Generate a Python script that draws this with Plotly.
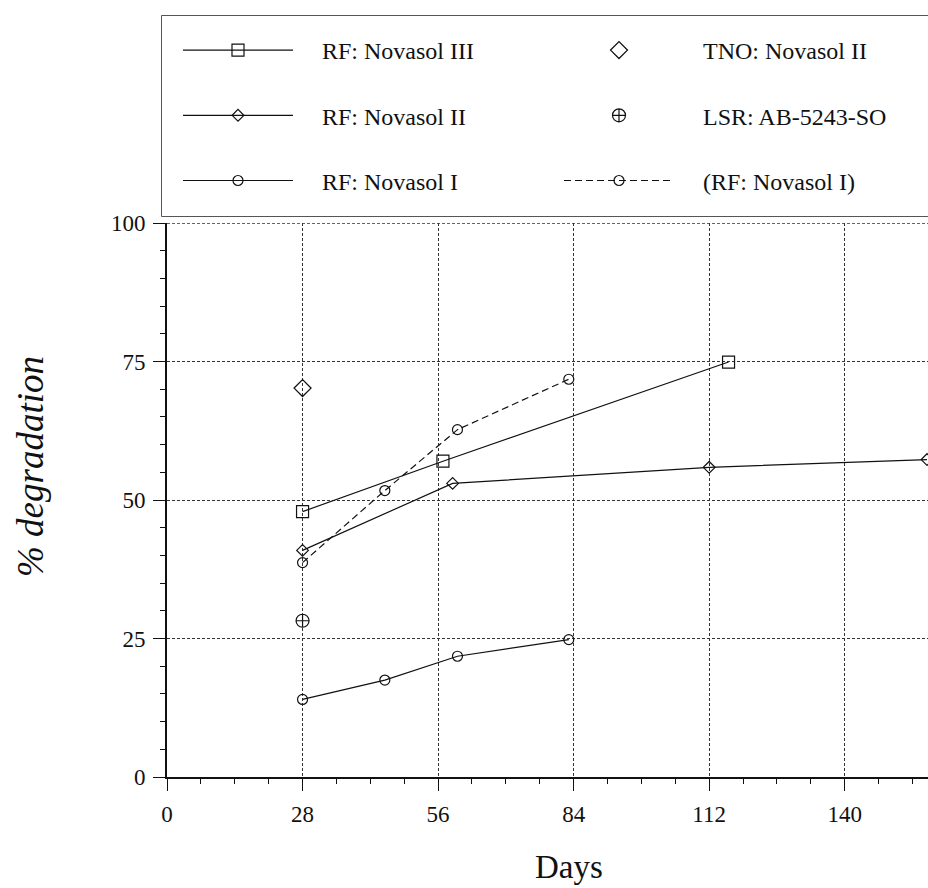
import plotly.graph_objects as go

# ---- data ----
rf3_days = [28, 57, 116]
rf3_vals = [47.9, 57.0, 74.9]

rf2_days = [28, 59, 112, 157]
rf2_vals = [40.9, 53.0, 55.9, 57.3]

rf1_days = [28, 45, 60, 83]
rf1_vals = [14.0, 17.5, 21.8, 24.8]

tno_days = [28]
tno_vals = [70.2]

lsr_days = [28]
lsr_vals = [28.2]

rf1b_days = [28, 45, 60, 83]
rf1b_vals = [38.7, 51.7, 62.7, 71.8]

x_ticks = [0, 28, 56, 84, 112, 140]
y_ticks = [0, 25, 50, 75, 100]

FONT = "Liberation Serif"
BLACK = "#111111"
PAD = "\u00a0" * 4

fig = go.Figure()

line_style = dict(color=BLACK, width=1.2)

fig.add_trace(go.Scatter(x=rf3_days, y=rf3_vals, mode="lines+markers", name=PAD + "RF: Novasol III",
                         line=line_style, legend="legend", legendgroup="a",
                         marker=dict(symbol="square-open", size=12, color=BLACK, line=dict(width=1.2))))
fig.add_trace(go.Scatter(x=rf2_days, y=rf2_vals, mode="lines+markers", name=PAD + "RF: Novasol II",
                         line=line_style, legend="legend", legendgroup="b",
                         marker=dict(symbol="diamond-open", size=9, color=BLACK, line=dict(width=1.2))))
fig.add_trace(go.Scatter(x=rf1_days, y=rf1_vals, mode="lines+markers", name=PAD + "RF: Novasol I",
                         line=line_style, legend="legend", legendgroup="c",
                         marker=dict(symbol="circle-open", size=10, color=BLACK, line=dict(width=1.2))))
fig.add_trace(go.Scatter(x=tno_days, y=tno_vals, mode="markers", name=PAD + "TNO: Novasol II",
                         legend="legend2", legendgroup="d",
                         marker=dict(symbol="diamond-open", size=13, color=BLACK, line=dict(width=1.3))))
fig.add_trace(go.Scatter(x=lsr_days, y=lsr_vals, mode="markers", name=PAD + "LSR: AB-5243-SO",
                         legend="legend2", legendgroup="e",
                         marker=dict(symbol="circle-cross-open", size=13, color=BLACK, line=dict(width=1.2))))
fig.add_trace(go.Scatter(x=rf1b_days, y=rf1b_vals, mode="lines+markers", name=PAD + "(RF: Novasol I)",
                         line=dict(color=BLACK, width=1.2, dash="7px,4px"), legend="legend2", legendgroup="f",
                         marker=dict(symbol="circle-open", size=10, color=BLACK, line=dict(width=1.2))))

grid = dict(showgrid=True, gridcolor="#333333", gridwidth=1, griddash="3px,2px")

fig.update_xaxes(range=[0, 157.2], tickvals=x_ticks, ticks="outside", ticklen=12, tickwidth=1,
                 tickcolor=BLACK, showline=True, linecolor=BLACK, linewidth=2, zeroline=False,
                 tickfont=dict(family=FONT, size=23, color=BLACK), ticklabelstandoff=3,
                 minor=dict(dtick=7, tick0=0, ticks="outside", ticklen=5, tickcolor=BLACK, showgrid=False),
                 **grid)
fig.update_yaxes(range=[0, 100], tickvals=y_ticks, ticks="outside", ticklen=12, tickwidth=1,
                 tickcolor=BLACK, showline=True, linecolor=BLACK, linewidth=2, zeroline=False,
                 tickfont=dict(family=FONT, size=23, color=BLACK), ticklabelstandoff=3,
                 minor=dict(dtick=5, tick0=0, ticks="outside", ticklen=5, tickcolor=BLACK, showgrid=False),
                 **grid)

T, B, L = 223, 111, 167
H = 888 - T - B
W = 928 - L


def py(px):
    return (888 - B - px) / H


def pxx(px):
    return (px - L) / W


legend_common = dict(bgcolor="rgba(0,0,0,0)", borderwidth=0, itemwidth=110, tracegroupgap=31,
                     font=dict(family=FONT, size=24, color=BLACK), xanchor="left", yanchor="top",
                     orientation="v", itemclick=False, itemdoubleclick=False)

fig.update_layout(
    width=928, height=888,
    margin=dict(l=L, r=0, t=T, b=B, pad=0),
    paper_bgcolor="white", plot_bgcolor="white",
    showlegend=True,
    legend=dict(x=pxx(178), y=py(28), **legend_common),
    legend2=dict(x=pxx(559), y=py(28), **legend_common),
    shapes=[
        dict(type="rect", xref="paper", yref="paper",
             x0=pxx(161.5), x1=pxx(935), y0=py(216.5), y1=py(15.5),
             line=dict(color="#555555", width=1), fillcolor="rgba(0,0,0,0)", layer="below"),
        # dashed top frame line at y = 100 (grid line at the upper range end)
        dict(type="line", xref="paper", yref="y", x0=0, x1=1, y0=100, y1=100,
             line=dict(color="#333333", width=1.5, dash="3px,2px"), layer="below"),
    ],
    annotations=[
        dict(text="Days", xref="paper", yref="paper", x=pxx(569), y=py(867), xanchor="center",
             yanchor="middle", showarrow=False, font=dict(family=FONT, size=33, color=BLACK)),
        dict(text="<i>% degradation</i>", xref="paper", yref="paper", x=pxx(30), y=py(467),
             xanchor="center", yanchor="middle", textangle=-90, showarrow=False,
             font=dict(family=FONT, size=37, color=BLACK)),
    ],
)

fig.write_html("out.html")
